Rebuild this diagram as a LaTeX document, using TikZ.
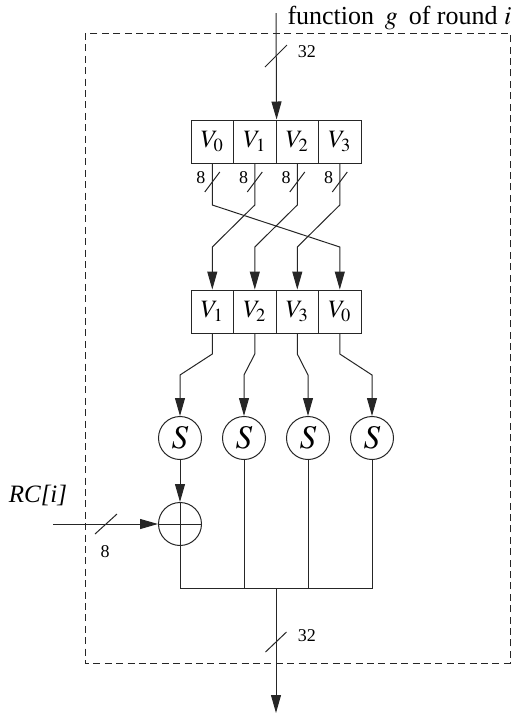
\documentclass[tikz,border=0pt]{standalone}
\usepackage{mathptmx}
\usepackage{fontspec}
\setmainfont{Liberation Serif}
\usetikzlibrary{arrows.meta}
\tikzset{
  cell/.style={draw, minimum width=21.3pt, minimum height=21.5pt, inner sep=0pt,
    font=\fontsize{12.5}{14}\selectfont},
  sbox/.style={draw, circle, minimum size=21.5pt, inner sep=0pt,
    font=\fontsize{16.5}{18}\selectfont},
  xorgate/.style={draw, circle, minimum size=21.5pt, inner sep=0pt,
    path picture={\draw (path picture bounding box.north) -- (path picture bounding box.south)
      (path picture bounding box.west) -- (path picture bounding box.east);}},
  wire/.style={-{Triangle[length=9pt,width=5pt]}},
  buslabel/.style={font=\fontsize{9}{10}\selectfont, inner sep=0pt},
}
\newcommand{\drawslash}[3]{
  \draw (#1) ++(-#2,#3) -- ++({2*#2},{-2*#3});
}

\begin{document}
\begin{tikzpicture}[x=0.5pt,y=-0.5pt,line width=0.5pt,draw=black!85]
      \useasboundingbox (0,0) rectangle (525,725);
      \draw[dashed,dash pattern=on 3.5pt off 2.2pt] (85,33) rectangle (510,663);
      \node[anchor=base west,inner sep=0pt,font=\fontsize{13}{15}\selectfont] (title) at (287,24) {function \,$g$\, of round $i$};

      \node[cell] (a0) at (212.3,141.5) {$V_0$};      % input register
      \node[cell] (a1) at (254.8,141.5) {$V_1$};
      \node[cell] (a2) at (297.3,141.5) {$V_2$};
      \node[cell] (a3) at (339.8,141.5) {$V_3$};
      \coordinate (gin) at (276,13);
      \draw[wire] (gin) -- (a1.north east);
      \drawslash{276,56}{11}{11};
      \node[buslabel] (w32a) at (307,52) {32};

      \node[cell] (b0) at (212.3,311.5) {$V_1$};      % rotated register
      \node[cell] (b1) at (254.8,311.5) {$V_2$};
      \node[cell] (b2) at (297.3,311.5) {$V_3$};
      \node[cell] (b3) at (339.8,311.5) {$V_0$};
      \draw[wire] (a0.south) -- (a0.south |- 0,205) -- (b3.north |- 0,247) -- (b3.north);
      \draw[wire] (a1.south) -- (a1.south |- 0,205) -- (b0.north |- 0,247) -- (b0.north);
      \draw[wire] (a2.south) -- (a2.south |- 0,205) -- (b1.north |- 0,247) -- (b1.north);
      \draw[wire] (a3.south) -- (a3.south |- 0,205) -- (b2.north |- 0,247) -- (b2.north);
      \drawslash{a0.south |- 0,182}{7.5}{10};
      \drawslash{a1.south |- 0,182}{7.5}{10};
      \drawslash{a2.south |- 0,182}{7.5}{10};
      \drawslash{a3.south |- 0,182}{7.5}{10};
      \node[buslabel] (w8a) at (201,178) {8};
      \node[buslabel] (w8b) at (243.5,178) {8};
      \node[buslabel] (w8c) at (286,178) {8};
      \node[buslabel] (w8d) at (328.5,178) {8};

      \node[sbox] (s0) at (180,438) {$S$};            % s-boxes
      \node[sbox] (s1) at (244,438) {$S$};
      \node[sbox] (s2) at (308,438) {$S$};
      \node[sbox] (s3) at (372,438) {$S$};
      \draw[wire] (b0.south) -- (b0.south |- 0,354) -- (s0.north |- 0,375) -- (s0.north);
      \draw[wire] (b1.south) -- (b1.south |- 0,354) -- (s1.north |- 0,375) -- (s1.north);
      \draw[wire] (b2.south) -- (b2.south |- 0,354) -- (s2.north |- 0,375) -- (s2.north);
      \draw[wire] (b3.south) -- (b3.south |- 0,354) -- (s3.north |- 0,375) -- (s3.north);

      \node[xorgate] (x0) at (180,524) {};             % round constant
      \draw[wire] (s0.south) -- (x0.north);
      \coordinate (rcin) at (53,524);
      \draw[wire] (rcin) -- (x0.west);
      \node[font=\fontsize{12.5}{14}\selectfont] (rc) at (38,495) {\textit{RC[i]}};
      \drawslash{106,524}{11}{10};
      \node[buslabel] (w8e) at (105,552) {8};

      \coordinate (join) at (276,588);                 % output
      \coordinate (gout) at (276,713);
      \draw (x0.south) -- (x0.south |- join) -- (s3.south |- join) -- (s3.south);
      \draw (s1.south) -- (s1.south |- join);
      \draw (s2.south) -- (s2.south |- join);
      \draw[wire] (join) -- (gout);
      \drawslash{276,642}{10.5}{10};
      \node[buslabel] (w32b) at (307,636) {32};
\end{tikzpicture}
\end{document}
